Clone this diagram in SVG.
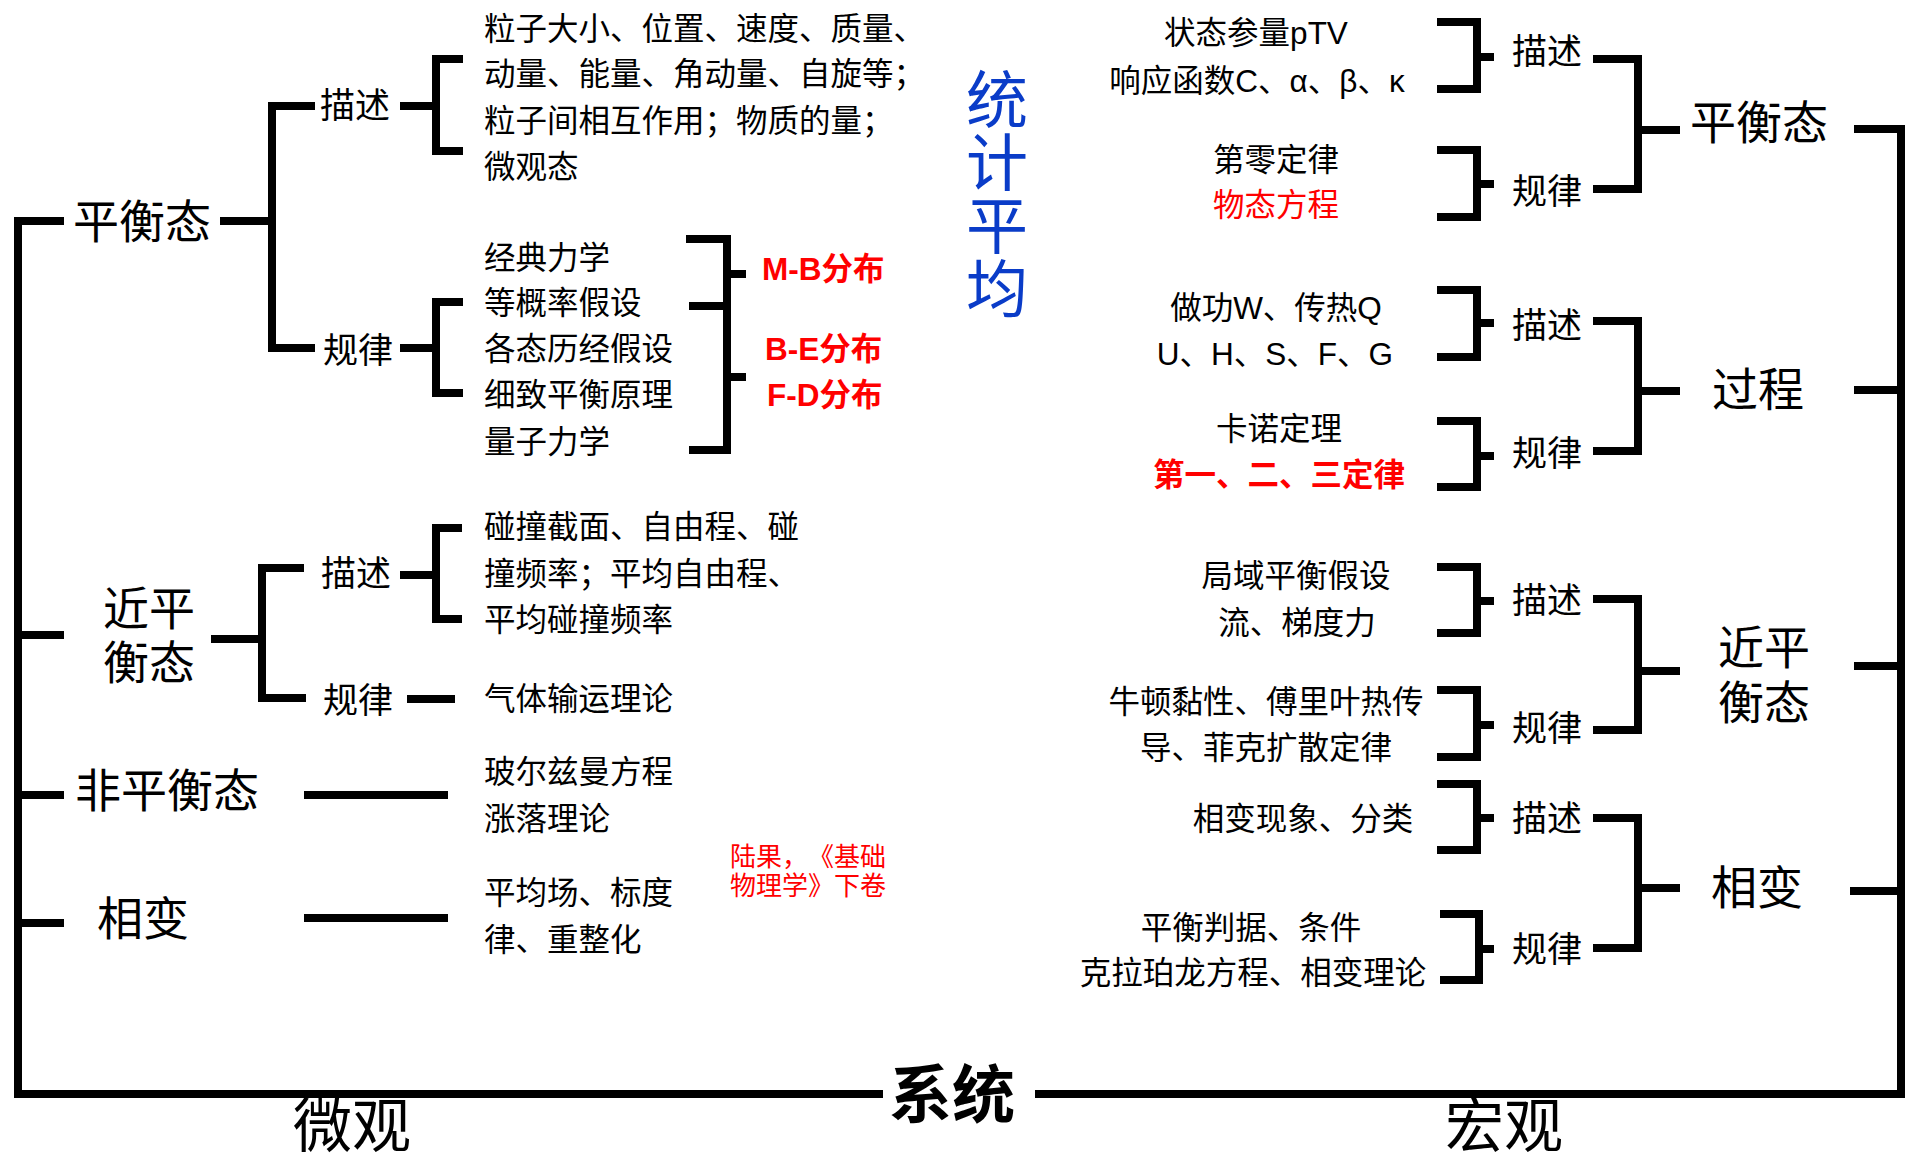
<svg xmlns="http://www.w3.org/2000/svg" width="1905" height="1164" viewBox="0 0 1905 1164">
<style>
.ln{stroke:#000;stroke-width:8;fill:none;stroke-linejoin:miter;stroke-linecap:butt}
text{font-family:"Noto Sans CJK SC",sans-serif;fill:#000;font-feature-settings:"chws" 0,"halt" 0;text-spacing-trim:space-all}
.t{font-size:31.5px}
.lat{font-family:"Liberation Sans","Noto Sans CJK SC",sans-serif}
.h{font-size:46px}
.m{font-size:35px}
.red{fill:#ff0000}
.b{font-weight:bold}
.mid{text-anchor:middle}
.blue{fill:#0a3cc8;font-size:62px}
.note{font-size:26px}
</style>
<rect width="1905" height="1164" fill="#fff"/>
<g id="connectors" class="ln">
  <path d="M64,221 H18 V1094 H883"/>
  <path d="M1035,1094 H1901 V129 H1854"/>
  <path d="M18,635 H64 M18,795 H64 M18,923 H64"/>
  <path d="M1901,390 H1854 M1901,666 H1854 M1901,891 H1850"/>
  <path d="M220,221 H272 M315,106 H272 V348 H315"/>
  <path d="M400,106 H436 M463,59 H436 V151 H463"/>
  <path d="M400,348 H436 M463,302 H436 V393 H463"/>
  <path d="M686,239 H727 V450 H689 M689,306 H727 M727,274 H746 M727,377 H746"/>
  <path d="M211,639 H262 M304,568 H262 V698 H306"/>
  <path d="M400,575 H436 M462,528 H436 V619 H462"/>
  <path d="M407,699 H455"/>
  <path d="M304,795 H448"/>
  <path d="M304,918 H448"/>
  <path d="M1437,22 H1477 V89 H1437 M1477,57 H1494"/>
  <path d="M1437,150 H1477 V217 H1437 M1477,184 H1494"/>
  <path d="M1593,59 H1638 V189 H1593 M1638,130 H1680"/>
  <path d="M1437,290 H1477 V357 H1437 M1477,323 H1494"/>
  <path d="M1437,421 H1477 V487 H1437 M1477,456 H1494"/>
  <path d="M1593,321 H1638 V451 H1593 M1638,391 H1680"/>
  <path d="M1437,567 H1477 V633 H1437 M1477,601 H1494"/>
  <path d="M1437,690 H1477 V757 H1437 M1477,725 H1494"/>
  <path d="M1593,599 H1638 V730 H1593 M1638,671 H1680"/>
  <path d="M1437,784 H1477 V850 H1437 M1477,818 H1494"/>
  <path d="M1440,914 H1479 V980 H1440 M1479,949 H1494"/>
  <path d="M1593,818 H1638 V948 H1593 M1638,888 H1680"/>
</g>
<g id="micro-eq">
  <text class="h" x="73" y="238">平衡态</text>
</g>
<g id="micro-eq-desc">
  <text class="m" x="320" y="118">描述</text>
  <text class="t" x="484" y="40">粒子大小、位置、速度、质量、</text>
  <text class="t" x="484" y="85">动量、能量、角动量、自旋等；</text>
  <text class="t" x="484" y="132">粒子间相互作用；物质的量；</text>
  <text class="t" x="484" y="178">微观态</text>
</g>
<g id="micro-eq-law">
  <text class="m" x="323" y="363">规律</text>
  <text class="t" x="484" y="269">经典力学</text>
  <text class="t" x="484" y="314">等概率假设</text>
  <text class="t" x="484" y="360">各态历经假设</text>
  <text class="t" x="484" y="406">细致平衡原理</text>
  <text class="t" x="484" y="453">量子力学</text>
</g>
<g id="distributions">
  <text class="t lat red b" x="762" y="280">M-B分布</text>
  <text class="t lat red b" x="765" y="360">B-E分布</text>
  <text class="t lat red b" x="767" y="406">F-D分布</text>
</g>
<g id="stat-avg">
  <text class="blue" x="997" y="68" writing-mode="vertical-rl" letter-spacing="1">统计平均</text>
</g>
<g id="micro-near">
  <text class="h mid" x="149" y="625">近平</text>
  <text class="h mid" x="149" y="679">衡态</text>
</g>
<g id="micro-near-desc">
  <text class="m" x="321" y="586">描述</text>
  <text class="t" x="484" y="538">碰撞截面、自由程、碰</text>
  <text class="t" x="484" y="585">撞频率；平均自由程、</text>
  <text class="t" x="484" y="631">平均碰撞频率</text>
</g>
<g id="micro-near-law">
  <text class="m" x="323" y="713">规律</text>
  <text class="t" x="484" y="710">气体输运理论</text>
</g>
<g id="micro-noneq">
  <text class="h" x="75" y="807">非平衡态</text>
  <text class="t" x="484" y="783">玻尔兹曼方程</text>
  <text class="t" x="484" y="830">涨落理论</text>
</g>
<g id="micro-phase">
  <text class="h" x="97" y="935">相变</text>
  <text class="t" x="484" y="904">平均场、标度</text>
  <text class="t" x="484" y="951">律、重整化</text>
</g>
<g id="note">
  <text class="note red" x="730" y="866">陆果，《基础</text>
  <text class="note red" x="730" y="895">物理学》下卷</text>
</g>
<g id="macro-eq">
  <text class="h mid" x="1759" y="139">平衡态</text>
  <text class="m mid" x="1547" y="64">描述</text>
  <text class="t lat mid" x="1256" y="44">状态参量pTV</text>
  <text class="t lat mid" x="1257" y="92">响应函数C、α、β、κ</text>
  <text class="m mid" x="1547" y="204">规律</text>
  <text class="t mid" x="1276" y="171">第零定律</text>
  <text class="t mid red" x="1276" y="216">物态方程</text>
</g>
<g id="macro-process">
  <text class="h mid" x="1758" y="406">过程</text>
  <text class="m mid" x="1547" y="338">描述</text>
  <text class="t lat mid" x="1276" y="319">做功W、传热Q</text>
  <text class="t lat mid" x="1275" y="365">U、H、S、F、G</text>
  <text class="m mid" x="1547" y="466">规律</text>
  <text class="t mid" x="1279" y="440">卡诺定理</text>
  <text class="t mid red b" x="1279" y="486">第一、二、三定律</text>
</g>
<g id="macro-near">
  <text class="h mid" x="1764" y="664">近平</text>
  <text class="h mid" x="1764" y="719">衡态</text>
  <text class="m mid" x="1547" y="613">描述</text>
  <text class="t mid" x="1296" y="587">局域平衡假设</text>
  <text class="t mid" x="1297" y="634">流、梯度力</text>
  <text class="m mid" x="1547" y="741">规律</text>
  <text class="t mid" x="1266" y="713">牛顿黏性、傅里叶热传</text>
  <text class="t mid" x="1266" y="759">导、菲克扩散定律</text>
</g>
<g id="macro-phase">
  <text class="h mid" x="1757" y="904">相变</text>
  <text class="m mid" x="1547" y="831">描述</text>
  <text class="t mid" x="1303" y="830">相变现象、分类</text>
  <text class="m mid" x="1547" y="962">规律</text>
  <text class="t mid" x="1251" y="939">平衡判据、条件</text>
  <text class="t mid" x="1253" y="984">克拉珀龙方程、相变理论</text>
</g>
<g id="system">
  <text class="mid b" style="font-size:63px" x="952" y="1117">系统</text>
</g>
<g id="micro-label">
  <text class="mid" style="font-size:59px" x="352" y="1147">微观</text>
</g>
<g id="macro-label">
  <text class="mid" style="font-size:59px" x="1504" y="1147">宏观</text>
</g>
</svg>
